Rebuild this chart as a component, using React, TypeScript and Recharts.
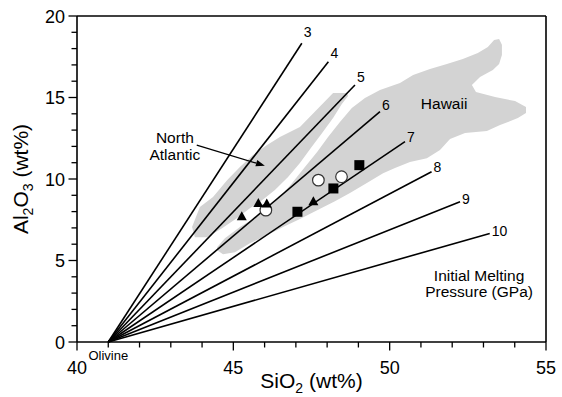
import React from "react";
import { ScatterChart, Scatter, XAxis, YAxis, ReferenceLine } from "recharts";

const FONT = "'Liberation Sans', Arial, Helvetica, sans-serif";

// axis ticks
const X_TICKS = [40, 41, 42, 43, 44, 45, 46, 47, 48, 49, 50, 51, 52, 53, 54, 55];
const Y_TICKS = [0, 1, 2, 3, 4, 5, 6, 7, 8, 9, 10, 11, 12, 13, 14, 15, 16, 17, 18, 19, 20];
const X_LABELS = [40, 45, 50, 55];
const Y_LABELS = [0, 5, 10, 15, 20];

// olivine control lines, labelled by initial melting pressure (GPa)
const OLIVINE = { x: 41, y: 0 };
const PRESSURES = ["3", "4", "5", "6", "7", "8", "9", "10"];
const END_SIO2 = [47.19, 48.04, 48.89, 49.69, 50.49, 51.34, 52.25, 53.2];
const END_AL2O3 = [18.33, 17.2, 15.77, 14.13, 12.29, 10.44, 8.6, 6.66];
const LABEL_DY = [-6, -4, -3, -2, 0, 0, 2, 3];

// samples
const CIRCLE_SIO2 = [46.04, 47.72, 48.46];
const CIRCLE_AL2O3 = [8.09, 9.93, 10.14];
const SQUARE_SIO2 = [47.05, 48.2, 49.03];
const SQUARE_AL2O3 = [7.99, 9.42, 10.85];
const TRIANGLE_SIO2 = [45.27, 45.8, 46.07, 47.56];
const TRIANGLE_AL2O3 = [7.68, 8.5, 8.46, 8.6];

// fields
const NORTH_ATLANTIC_SIO2 = [
  48.63, 48.19, 47.13, 46.49, 46.08, 45.63, 45.21, 44.8, 44.35, 43.93, 43.68, 43.77,
  44.16, 44.64, 45.12, 45.53, 45.92, 46.33, 46.75, 47.13, 47.48, 47.84, 48.19, 48.47, 48.67,
];
const NORTH_ATLANTIC_AL2O3 = [
  15.28, 15.28, 13.19, 12.57, 12.08, 11.47, 10.73, 9.93, 8.89, 8.28, 7.05, 6.43,
  6.43, 6.98, 7.6, 8.21, 8.7, 9.32, 10.12, 10.98, 11.9, 12.82, 13.74, 14.6, 15.09,
];
const HAWAII_SIO2 = [
  44.48, 44.73, 45.21, 45.69, 46.11, 46.49, 46.88, 47.29, 47.68, 48.03, 48.41, 48.79,
  49.21, 49.69, 50.33, 50.75, 51.29, 51.83, 52.34, 52.82, 53.14, 53.34, 53.5, 53.59,
  53.59, 53.5, 53.3, 52.89, 52.63, 52.76, 53.37, 54.01, 54.36, 54.36, 54.1, 53.53,
  53.11, 52.41, 51.93, 51.61, 51.19, 50.65, 50.17, 49.79, 49.27, 48.73, 48.25, 47.68,
  47.13, 46.59, 46.01, 45.53, 45.05, 44.67, 44.48,
];
const HAWAII_AL2O3 = [
  5.82, 6.37, 7.05, 7.6, 8.21, 8.89, 9.75, 10.73, 11.65, 12.57, 13.5, 14.35,
  14.97, 15.46, 15.89, 16.38, 16.75, 17.06, 17.36, 17.73, 18.1, 18.53, 18.59, 18.23,
  17.61, 17.06, 16.69, 16.26, 15.77, 15.34, 15.03, 14.78, 14.42, 14.05, 13.74, 13.31,
  12.94, 12.82, 12.45, 11.78, 11.28, 11.04, 10.67, 10.36, 9.75, 9.14, 8.64, 8.08,
  7.54, 7.05, 6.49, 6.06, 5.51, 5.39, 5.63,
];

// annotations
const ARROW = [
  { x: 43.83, y: 12.08 },
  { x: 46.01, y: 10.81 },
];
const NOTES = [
  { x: 43.13, y: 12.02, lines: ["North", "Atlantic"] },
  { x: 51.74, y: 14.61, lines: ["Hawaii"] },
  { x: 52.86, y: 3.59, lines: ["Initial Melting", "Pressure (GPa)"] },
];

const zip = (xs: number[], ys: number[]) => xs.map((x, i) => ({ x, y: ys[i] }));

const controlLines = PRESSURES.map((p, i) => [
  OLIVINE,
  { x: END_SIO2[i], y: END_AL2O3[i], label: p, dy: LABEL_DY[i] },
]);

const nothing = () => <g />;

const fieldShape = (props: any) => {
  const pts = props.points || [];
  const d = pts.map((p: any, i: number) => `${i ? "L" : "M"}${p.x},${p.y}`).join(" ") + " Z";
  return <path d={d} fill="#d3d3d3" stroke="none" />;
};

const segment = (props: any) => {
  const [a, b] = props.points || [];
  if (!a || !b) return <g />;
  return <line x1={a.x} y1={a.y} x2={b.x} y2={b.y} stroke="#000" strokeWidth={1.6} />;
};

const arrow = (props: any) => {
  const [a, b] = props.points || [];
  if (!a || !b) return <g />;
  const ang = Math.atan2(b.y - a.y, b.x - a.x);
  const c = Math.cos(ang);
  const s = Math.sin(ang);
  const bx = b.x - 9 * c;
  const by = b.y - 9 * s;
  return (
    <g>
      <line x1={a.x} y1={a.y} x2={bx} y2={by} stroke="#000" strokeWidth={1.2} />
      <polygon
        points={`${b.x},${b.y} ${bx + 3.2 * s},${by - 3.2 * c} ${bx - 3.2 * s},${by + 3.2 * c}`}
        fill="#000"
      />
    </g>
  );
};

const lineLabel = (props: any) => {
  const { cx, cy, payload } = props;
  if (!payload || !payload.label) return <g />;
  return (
    <text x={cx + 2} y={cy + payload.dy} fontSize={14} fontFamily={FONT} fill="#000">
      {payload.label}
    </text>
  );
};

const olivineLabel = (props: any) => (
  <text x={props.cx} y={props.cy + 18} textAnchor="middle" fontSize={13} fontFamily={FONT} fill="#000">
    Olivine
  </text>
);

const noteShape = (props: any) => {
  const { cx, cy, payload } = props;
  const lines: string[] = payload.lines;
  const lh = 16.5;
  return (
    <g>
      {lines.map((t, i) => (
        <text
          key={i}
          x={cx}
          y={cy + (i - (lines.length - 1) / 2) * lh + 5.5}
          textAnchor="middle"
          fontSize={15.5}
          fontFamily={FONT}
          fill="#000"
        >
          {t}
        </text>
      ))}
    </g>
  );
};

const circleShape = (props: any) => (
  <circle cx={props.cx} cy={props.cy} r={5.8} fill="#fff" stroke="#333" strokeWidth={1.2} />
);
const squareShape = (props: any) => (
  <rect x={props.cx - 5} y={props.cy - 5} width={10} height={10} fill="#000" />
);
const triangleShape = (props: any) => (
  <polygon
    points={`${props.cx},${props.cy - 5.5} ${props.cx - 5},${props.cy + 3.5} ${props.cx + 5},${props.cy + 3.5}`}
    fill="#000"
  />
);

const XTick = (props: any) => {
  const { x, y, payload } = props;
  const major = X_LABELS.includes(payload.value);
  return (
    <g>
      <line x1={x} y1={y} x2={x} y2={y + (major ? 8.5 : 5.5)} stroke="#000" strokeWidth={1.3} />
      {major && (
        <text x={x} y={y + 31.5} textAnchor="middle" fontSize={18} fontFamily={FONT} fill="#000">
          {payload.value}
        </text>
      )}
    </g>
  );
};

const YTick = (props: any) => {
  const { x, y, payload } = props;
  const major = Y_LABELS.includes(payload.value);
  return (
    <g>
      <line x1={x - (major ? 8.5 : 5.5)} y1={y} x2={x} y2={y} stroke="#000" strokeWidth={1.3} />
      {major && (
        <text x={x - 12} y={y + 6.5} textAnchor="end" fontSize={18} fontFamily={FONT} fill="#000">
          {payload.value}
        </text>
      )}
    </g>
  );
};

const XTitle = (props: any) => {
  const vb = props.viewBox || { x: 77, y: 342, width: 469 };
  return (
    <text x={vb.x + vb.width / 2} y={vb.y + 46} textAnchor="middle" fontSize={21} fontFamily={FONT} fill="#000">
      SiO
      <tspan fontSize={14} dy={5}>2</tspan>
      <tspan dy={-5}> (wt%)</tspan>
    </text>
  );
};

const YTitle = (props: any) => {
  const vb = props.viewBox || { x: 0, y: 16, height: 326 };
  const cx = 28;
  const cy = vb.y + vb.height / 2;
  return (
    <text
      x={cx}
      y={cy}
      transform={`rotate(-90, ${cx}, ${cy})`}
      textAnchor="middle"
      fontSize={21}
      fontFamily={FONT}
      fill="#000"
    >
      Al
      <tspan fontSize={14} dy={5}>2</tspan>
      <tspan dy={-5}>O</tspan>
      <tspan fontSize={14} dy={5}>3</tspan>
      <tspan dy={-5}> (wt%)</tspan>
    </text>
  );
};

export default function App() {
  return (
    <div style={{ position: "absolute", left: 0, top: 0, background: "#fff" }}>
      <ScatterChart width={562} height={397} margin={{ top: 16, right: 16, bottom: 0, left: 0 }}>
        <XAxis
          type="number"
          dataKey="x"
          domain={[40, 55]}
          ticks={X_TICKS}
          interval={0}
          tickSize={0}
          tickMargin={0}
          tick={<XTick />}
          height={55}
          axisLine={{ stroke: "#000", strokeWidth: 1.6 }}
          label={{ content: (p: any) => <XTitle {...p} /> }}
        />
        <YAxis
          type="number"
          dataKey="y"
          domain={[0, 20]}
          ticks={Y_TICKS}
          interval={0}
          tickSize={0}
          tickMargin={0}
          tick={<YTick />}
          width={77}
          axisLine={{ stroke: "#000", strokeWidth: 1.6 }}
          label={{ content: (p: any) => <YTitle {...p} /> }}
        />
        <ReferenceLine y={20} stroke="#000" strokeWidth={1.6} />
        <ReferenceLine x={55} stroke="#000" strokeWidth={1.6} />

        <Scatter
          data={zip(NORTH_ATLANTIC_SIO2, NORTH_ATLANTIC_AL2O3)}
          line={fieldShape}
          shape={nothing}
          isAnimationActive={false}
        />
        <Scatter
          data={zip(HAWAII_SIO2, HAWAII_AL2O3)}
          line={fieldShape}
          shape={nothing}
          isAnimationActive={false}
        />

        {controlLines.map((d, i) => (
          <Scatter key={PRESSURES[i]} data={d} line={segment} shape={lineLabel} isAnimationActive={false} />
        ))}

        <Scatter data={[OLIVINE]} shape={olivineLabel} isAnimationActive={false} />
        <Scatter data={ARROW} line={arrow} shape={nothing} isAnimationActive={false} />
        <Scatter data={NOTES} shape={noteShape} isAnimationActive={false} />

        <Scatter data={zip(CIRCLE_SIO2, CIRCLE_AL2O3)} shape={circleShape} isAnimationActive={false} />
        <Scatter data={zip(SQUARE_SIO2, SQUARE_AL2O3)} shape={squareShape} isAnimationActive={false} />
        <Scatter data={zip(TRIANGLE_SIO2, TRIANGLE_AL2O3)} shape={triangleShape} isAnimationActive={false} />
      </ScatterChart>
    </div>
  );
}
